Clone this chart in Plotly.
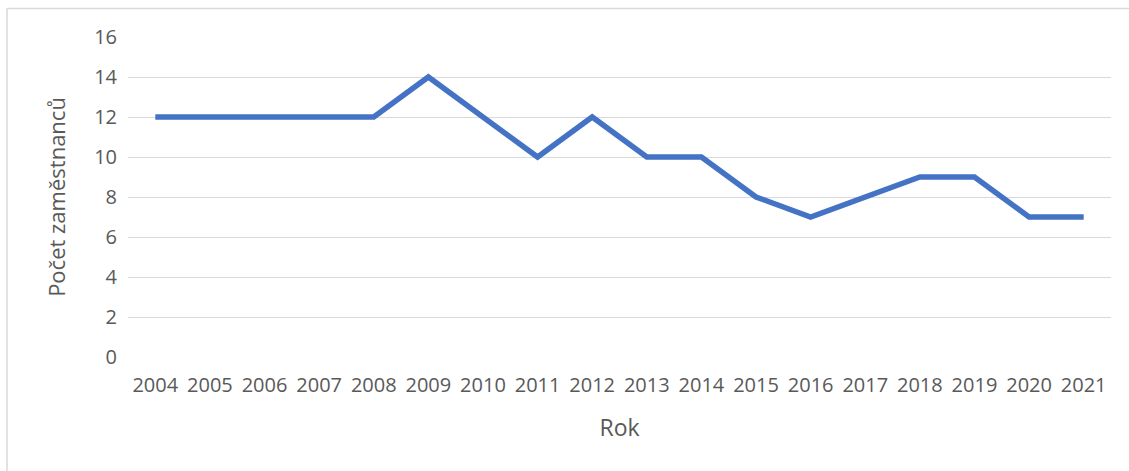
import plotly.graph_objects as go

# Number of employees per year
years = ["2004", "2005", "2006", "2007", "2008", "2009", "2010", "2011", "2012",
         "2013", "2014", "2015", "2016", "2017", "2018", "2019", "2020", "2021"]
employees = [12, 12, 12, 12, 12, 14, 12, 10, 12, 10, 10, 8, 7, 8, 9, 9, 7, 7]
y_ticks = [0, 2, 4, 6, 8, 10, 12, 14, 16]

W, H = 1129, 471
ML, MR, MT, MB = 128, 18, 37, 114

fig = go.Figure()
fig.add_trace(go.Scatter(
    x=years, y=employees, mode="lines",
    line=dict(color="#4472C4", width=5.5),
    hoverinfo="x+y",
))

font_family = "Open Sans, Liberation Sans, sans-serif"
gray = "#595959"

pw = W - ML - MR
ph = H - MT - MB


def px_x(p):
    return (p - ML) / pw


def px_y(p):
    return (H - MB - p) / ph


# chart frame
fig.add_shape(type="line", xref="paper", yref="paper",
              x0=px_x(7), x1=px_x(W + 5), y0=px_y(8.5), y1=px_y(8.5),
              line=dict(color="#D9D9D9", width=1.5))
fig.add_shape(type="line", xref="paper", yref="paper",
              x0=px_x(7), x1=px_x(7), y0=px_y(8.5), y1=px_y(H + 5),
              line=dict(color="#D9D9D9", width=1.5))

fig.update_layout(
    width=W, height=H,
    margin=dict(l=ML, r=MR, t=MT, b=MB),
    paper_bgcolor="white", plot_bgcolor="white",
    showlegend=False,
    font=dict(family=font_family, color=gray, size=20),
    xaxis=dict(
        type="category", range=[-0.5, len(years) - 0.5],
        showgrid=False, zeroline=False, showline=False,
        ticks="", tickfont=dict(size=20, color=gray), ticklabelstandoff=14,
        title=dict(text="Rok", font=dict(size=23, color=gray), standoff=22),
    ),
    yaxis=dict(
        range=[0, 16], tickvals=y_ticks, showgrid=True, gridcolor="#D9D9D9",
        gridwidth=1.2, zeroline=False, showline=False, ticks="",
        tickfont=dict(size=20, color=gray), ticklabelstandoff=10,
        title=dict(text="Počet zaměstnanců", font=dict(size=22, color=gray), standoff=22),
    ),
)

fig.write_html("out.html")
